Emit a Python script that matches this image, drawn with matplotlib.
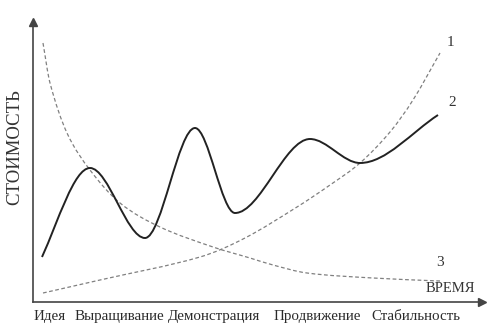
import numpy as np
import matplotlib
matplotlib.use('Agg')
import matplotlib.pyplot as plt
from matplotlib.path import Path
from matplotlib.patches import PathPatch

# стадии (подписи оси X) и их положения
stages = ["Идея", "Выращивание", "Демонстрация", "Продвижение", "Стабильность"]
stage_x = [17, 86, 181, 284, 383]

# кривая 1 - растущая (пунктир)
c1_x = [10, 67, 167, 212, 264, 297, 327, 357, 380, 407]
c1_y = [9, 22, 45, 64, 95, 117, 139, 170, 202, 249]

# кривая 2 - стоимость (сплошная): начало, экстремумы, конец
c2_x = [9, 57, 112, 162, 202, 277, 327, 405]
c2_y = [45, 134, 64, 174, 89, 163, 139, 187]

# кривая 3 - падающая (пунктир)
c3_x = [10, 17, 34, 57, 87, 127, 180, 217, 240, 274, 340, 407]
c3_y = [259, 219, 169, 132, 99, 75, 55, 44, 37, 29, 24, 21]

XMAX, YMAX = 449, 280


def smooth_path(xs, ys, m_start=None, m_end=None):
    # кубический Эрмит -> Безье; в экстремумах касательная горизонтальна
    x = np.asarray(xs, float)
    y = np.asarray(ys, float)
    h = np.diff(x)
    d = np.diff(y) / h
    n = len(x)
    m = np.zeros(n)
    for k in range(1, n - 1):
        if d[k - 1] * d[k] > 0:
            m[k] = (y[k + 1] - y[k - 1]) / (x[k + 1] - x[k - 1])
    m[0] = d[0] if m_start is None else m_start
    m[-1] = d[-1] if m_end is None else m_end
    verts = [(x[0], y[0])]
    codes = [Path.MOVETO]
    for k in range(n - 1):
        verts += [(x[k] + h[k] / 3, y[k] + m[k] * h[k] / 3),
                  (x[k + 1] - h[k] / 3, y[k + 1] - m[k + 1] * h[k] / 3),
                  (x[k + 1], y[k + 1])]
        codes += [Path.CURVE4] * 3
    return Path(verts, codes)


plt.rcParams['font.family'] = ['Liberation Serif', 'DejaVu Serif']

fig = plt.figure(figsize=(4.93, 3.26), dpi=100)
ax = fig.add_axes([33 / 493, 24 / 326, XMAX / 493, YMAX / 326])
ax.set_xlim(0, XMAX)
ax.set_ylim(0, YMAX)

axis_col = '#444444'
for s in ['top', 'right']:
    ax.spines[s].set_visible(False)
for s in ['left', 'bottom']:
    ax.spines[s].set_color(axis_col)
    ax.spines[s].set_linewidth(1.2)
ax.plot(1, 0, '>', color=axis_col, ms=6, transform=ax.transAxes, clip_on=False)
ax.plot(0, 1, '^', color=axis_col, ms=6, transform=ax.transAxes, clip_on=False)

ax.add_patch(PathPatch(smooth_path(c1_x, c1_y), fill=False, ec='#808080',
                       lw=0.9, ls=(0, (3, 2))))
ax.add_patch(PathPatch(smooth_path(c3_x, c3_y), fill=False, ec='#808080',
                       lw=0.9, ls=(0, (3, 2))))
ax.add_patch(PathPatch(smooth_path(c2_x, c2_y, m_start=2.2, m_end=0.65),
                       fill=False, ec='#222222', lw=1.4))

ax.text(c1_x[-1] + 10, c1_y[-1] + 10, "1", fontsize=11, color='#333333', ha='center', va='center')
ax.text(c2_x[-1] + 14, c2_y[-1] + 12, "2", fontsize=11, color='#333333', ha='center', va='center')
ax.text(c3_x[-1], c3_y[-1] + 18, "3", fontsize=11, color='#333333', ha='center', va='center')

ax.text(417, 14, "ВРЕМЯ", fontsize=10.5, color='#333333', ha='center', va='center')
fig.text(15 / 493, 1 - 147 / 326, "СТОИМОСТЬ", fontsize=13.5, color='#333333',
         rotation=90, ha='center', va='center')

ax.set_yticks([])
ax.set_xticks(stage_x, stages)
ax.tick_params(axis='x', length=0, pad=6, labelsize=10.8, labelcolor='#2a2a2a')

fig.savefig("out.png", dpi=100, facecolor='white')
